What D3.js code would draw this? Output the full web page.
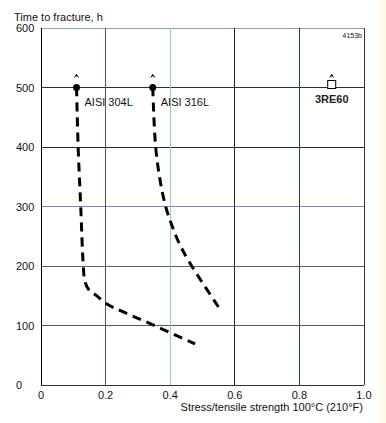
<!DOCTYPE html>
<html><head><meta charset="utf-8">
<script src="https://cdn.jsdelivr.net/npm/d3@7"></script>
<style>body{margin:0;background:#fff;}svg{display:block;font-family:"Liberation Sans",Arial,sans-serif;}</style>
</head><body><svg id="c" width="386" height="423"></svg>
<script>
const xTicks = [0, 0.2, 0.4, 0.6, 0.8, 1.0];
const xTickLabels = ["0", "0.2", "0.4", "0.6", "0.8", "1.0"];
const yTicks = [0, 100, 200, 300, 400, 500, 600];
const yTickLabels = ["0", "100", "200", "300", "400", "500", "600"];
const series304x = [0.11, 0.115, 0.123, 0.131, 0.136, 0.148, 0.17, 0.204, 0.25, 0.343, 0.477];
const series304y = [500, 400, 300, 200, 174, 160, 151, 136, 124, 102, 69];
const series316x = [0.346, 0.355, 0.37, 0.386, 0.404, 0.428, 0.461, 0.552];
const series316y = [500, 400, 340, 300, 270, 238, 205, 129];
const pointNames = ["AISI 304L", "AISI 316L", "3RE60"];
const pointX = [0.11, 0.346, 0.9];
const pointY = [500, 500, 500];
const vGridColors = ["#000", "#6b4a4f", "#8fd3a9", "#222", "#1f4a2c", "#333"];
const hGridColors = ["#333", "#5e4e7c", "#6a5a8c", "#8a7fb2", "#1c3322", "#173a22", "#8aa896"];

const svg = d3.select("#c");
svg.append("rect").attr("x", 379).attr("y", 0).attr("width", 7).attr("height", 423).attr("fill", "#fdfbe9");
const x = d3.scaleLinear().domain([0, 1]).range([41, 364]);
const y = d3.scaleLinear().domain([0, 600]).range([385, 28]);

// grid
svg.selectAll(".hg").data(yTicks).enter().append("line")
  .attr("x1", x(0)).attr("x2", x(1)).attr("y1", d => y(d)).attr("y2", d => y(d))
  .attr("stroke", (d, i) => hGridColors[i]).attr("stroke-width", 1).attr("shape-rendering", "crispEdges");
svg.selectAll(".vg").data(xTicks).enter().append("line")
  .attr("y1", y(0)).attr("y2", y(600)).attr("x1", d => x(d)).attr("x2", d => x(d))
  .attr("stroke", (d, i) => vGridColors[i]).attr("stroke-width", 1).attr("shape-rendering", "crispEdges");

// tick labels
svg.selectAll(".yl").data(yTicks).enter().append("text")
  .attr("x", 16).attr("y", d => y(d) + 4).attr("font-size", 11).attr("fill", "#111")
  .text((d, i) => yTickLabels[i]);
svg.selectAll(".xl").data(xTicks).enter().append("text")
  .attr("x", d => x(d)).attr("y", 399).attr("text-anchor", "middle").attr("font-size", 11).attr("fill", "#111")
  .text((d, i) => xTickLabels[i]);

svg.append("text").attr("x", 14).attr("y", 21).attr("font-size", 11).attr("fill", "#111").text("Time to fracture, h");
svg.append("text").attr("x", 363).attr("y", 411).attr("text-anchor", "end").attr("font-size", 11).attr("fill", "#111")
  .text("Stress/tensile strength 100°C (210°F)");
svg.append("text").attr("x", 362).attr("y", 38).attr("text-anchor", "end").attr("font-size", 7).attr("fill", "#111").text("4153b");

// curves
const line = d3.line().x(d => x(d[0])).y(d => y(d[1])).curve(d3.curveCatmullRom.alpha(0.5));
const s304 = series304x.map((v, i) => [v, series304y[i]]);
const s316 = series316x.map((v, i) => [v, series316y[i]]);
[s304, s316].forEach(s => {
  svg.append("path").attr("d", line(s)).attr("fill", "none").attr("stroke", "#000")
    .attr("stroke-width", 3).attr("stroke-dasharray", "9,6");
});

// points
pointNames.forEach((n, i) => {
  const px = x(pointX[i]), py = y(pointY[i]);
  if (i < 2) {
    svg.append("circle").attr("cx", px).attr("cy", py).attr("r", 3.5).attr("fill", "#000");
    svg.append("text").attr("x", px + 8).attr("y", py + 18).attr("font-size", 11).attr("fill", "#111").text(n);
  } else {
    svg.append("rect").attr("x", px - 4).attr("y", py - 7).attr("width", 8).attr("height", 8)
      .attr("fill", "#fff").attr("stroke", "#000").attr("stroke-width", 1);
    svg.append("text").attr("x", px).attr("y", py + 15).attr("text-anchor", "middle").attr("font-size", 11)
      .attr("font-weight", "bold").attr("fill", "#222").text(n);
  }
  const top = py - 13;
  svg.append("path").attr("d", `M${px - 2},${top + 3}L${px},${top}L${px + 2},${top + 3}M${px},${top}L${px},${top + 2}`)
    .attr("fill", "none").attr("stroke", "#000").attr("stroke-width", 1);
});
</script></body></html>
